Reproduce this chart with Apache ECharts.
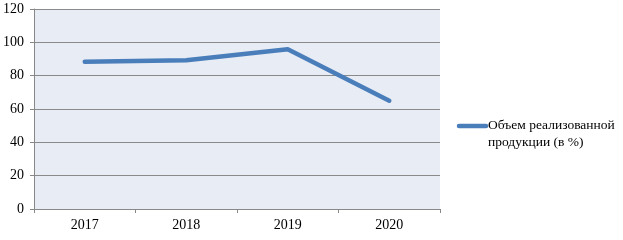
<!DOCTYPE html>
<html><head><meta charset="utf-8">
<script src="https://cdn.jsdelivr.net/npm/echarts@6/dist/echarts.min.js"></script>
<style>html,body{margin:0;padding:0;background:#fff}#c{width:623px;height:240px}</style>
</head><body><div id="c"></div>
<script>
var categories = ['2017', '2018', '2019', '2020'];
var values = [88.3, 89.3, 95.8, 65.0];
var seriesName = 'Объем реализованной продукции (в %)';
var legendLines = ['Объем реализованной', 'продукции (в %)'];
var yTicks = [0, 20, 40, 60, 80, 100, 120];

var chart = echarts.init(document.getElementById('c'), null, {renderer: 'canvas'});
var font = '"Liberation Serif", "Times New Roman", serif';
var blue = '#4a7ebb';
chart.setOption({
  animation: false,
  textStyle: {fontFamily: font},
  grid: {left: 34, top: 9, right: 183, bottom: 31, show: true, backgroundColor: '#e8ecf4', borderWidth: 0},
  legend: {show: false, data: [seriesName]},
  graphic: [
    {type: 'line', shape: {x1: 459, y1: 126, x2: 486, y2: 126},
     style: {stroke: blue, lineWidth: 4.5, lineCap: 'round'}},
    {type: 'text', left: 488, top: 117,
     style: {text: legendLines.join('\n'), font: '13.5px ' + font, fill: '#000', lineHeight: 17}}
  ],
  xAxis: {
    type: 'category', data: categories, boundaryGap: true,
    axisLine: {lineStyle: {color: '#888', width: 1}},
    axisTick: {show: true, length: 4, lineStyle: {color: '#888'}},
    axisLabel: {fontFamily: font, fontSize: 14, color: '#000', margin: 9},
    splitLine: {show: false}
  },
  yAxis: {
    type: 'value', min: yTicks[0], max: yTicks[yTicks.length - 1], interval: 20,
    axisLine: {show: true, lineStyle: {color: '#888', width: 1}},
    axisTick: {show: true, length: 4, lineStyle: {color: '#888'}},
    axisLabel: {fontFamily: font, fontSize: 14, color: '#000', margin: 10},
    splitLine: {show: true, lineStyle: {color: '#8a8a8a', width: 1}}
  },
  series: [{
    name: seriesName, type: 'line', data: values,
    showSymbol: false, smooth: false,
    lineStyle: {color: blue, width: 4.5, cap: 'round', join: 'round'},
    itemStyle: {color: blue}
  }]
});
</script></body></html>
